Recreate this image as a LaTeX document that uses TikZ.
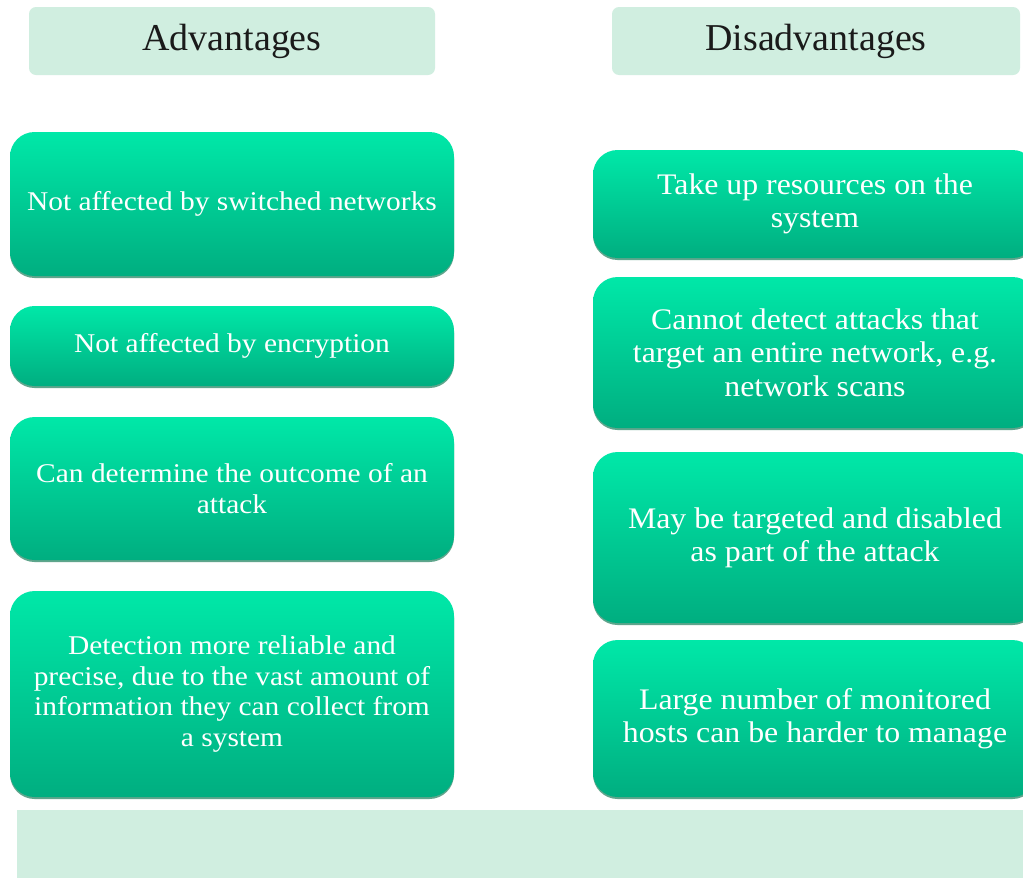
\documentclass[tikz,border=0pt]{standalone}
\usepackage{fontspec}
\setmainfont{Liberation Serif}
\newfontfamily\leftserif[FakeStretch=1.088]{Liberation Serif}
\newfontfamily\rightserif[FakeStretch=1.065]{Liberation Serif}
\usetikzlibrary{shadows}
\definecolor{headfill}{HTML}{D0EEE0}
\definecolor{boxtop}{HTML}{00E8A8}
\definecolor{boxbot}{HTML}{00AE80}
\definecolor{boxshade}{HTML}{5FA58C}
\definecolor{headtext}{HTML}{1A1A1A}
\tikzset{
  headbox/.style={fill=headfill, rounded corners=4pt, minimum height=68*0.02cm,
    inner sep=0pt, outer sep=0pt, text=headtext,
    font=\fontsize{21.6}{24}\selectfont},
  itembox/.style={rounded corners=14pt, minimum width=444*0.02cm,
    inner sep=0pt, outer sep=0pt, align=center, text=white,
    top color=boxtop, bottom color=boxbot,
    drop shadow={shadow xshift=0pt, shadow yshift=-0.04cm, opacity=1, fill=boxshade},
    font=\leftserif\fontsize{15.4}{17.6}\selectfont},
  rightbox/.style={itembox, font=\rightserif\fontsize{17}{19}\selectfont},
  bandbox/.style={fill=headfill, inner sep=0pt, outer sep=0pt},
}
\begin{document}
\begin{tikzpicture}[x=0.02cm, y=-0.02cm]
  \path[use as bounding box, clip] (0,0) rectangle (1023,877);
  \fill[white] (0,0) rectangle (1023,877);

  % column headings
  \node[headbox, minimum width=406*0.02cm] (hadv) at (232,41) {Advantages};
  \node[headbox, minimum width=408*0.02cm] (hdis) at (816,41) {Disadvantages};

  % advantages
  \node[itembox, minimum height=144*0.02cm] (a1) at (232,204)
    {Not affected by switched networks};
  \node[itembox, minimum height=80*0.02cm] (a2) at (232,346)
    {Not affected by encryption};
  \node[itembox, minimum height=143*0.02cm] (a3) at (232,488.5)
    {Can determine the outcome of an\\attack};
  \node[itembox, minimum height=206*0.02cm] (a4) at (232,694)
    {Detection more reliable and\\precise, due to the vast amount of\\information they can collect from\\a system};

  % disadvantages
  \node[rightbox, minimum height=108*0.02cm] (d1) at (815,204)
    {Take up resources on the\\system};
  \node[rightbox, minimum height=151*0.02cm] (d2) at (815,352.5)
    {Cannot detect attacks that\\target an entire network, e.g.\\network scans};
  \node[rightbox, minimum height=171*0.02cm] (d3) at (815,537.5)
    {May be targeted and disabled\\as part of the attack};
  \node[rightbox, minimum height=157*0.02cm] (d4) at (815,718.5)
    {Large number of monitored\\hosts can be harder to manage};

  % empty band along the bottom
  \node[bandbox, minimum width=1020*0.02cm, minimum height=80*0.02cm] (band) at (527,850) {};
\end{tikzpicture}
\end{document}
